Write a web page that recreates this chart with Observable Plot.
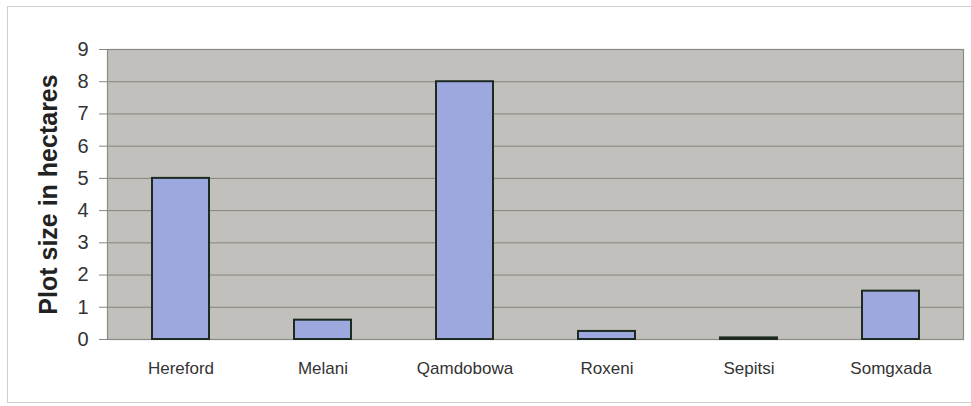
<!DOCTYPE html>
<html>
<head>
<meta charset="utf-8">
<script src="https://cdn.jsdelivr.net/npm/d3@7"></script>
<script src="https://cdn.jsdelivr.net/npm/@observablehq/plot@0.6"></script>
<style>
  html, body { margin: 0; padding: 0; background: #fff; }
  #wrap { position: relative; width: 971px; height: 406px; overflow: hidden; }
  #border { position: absolute; left: 7px; top: 6px; width: 980px; height: 397px;
            border: 1px solid #cfcfcb; box-sizing: border-box; pointer-events: none; }
  svg { display: block; }
</style>
</head>
<body>
<div id="wrap"><div id="border"></div></div>
<script>
// Plot size per village, in hectares
const villages = ["Hereford", "Melani", "Qamdobowa", "Roxeni", "Sepitsi", "Somgxada"];
const hectares = [5, 0.6, 8, 0.25, 0.05, 1.5];
const yTicks = [0, 1, 2, 3, 4, 5, 6, 7, 8, 9];

const data = villages.map((v, i) => ({village: v, size: hectares[i]}));

// short ticks on the category boundaries, below the x axis
function boundaryTicks(index, scales, values, dims) {
  const g = d3.create("svg:g");
  const [r0, r1] = scales.x.range();
  const n = villages.length;
  const yb = dims.height - dims.marginBottom;
  for (let i = 0; i <= n; i++) {
    const x = r0 + i * (r1 - r0) / n;
    g.append("line")
      .attr("x1", x).attr("x2", x)
      .attr("y1", yb).attr("y2", yb + 6)
      .attr("stroke", "#9a9a96");
  }
  return g.node();
}

const chart = Plot.plot({
  width: 971,
  height: 406,
  marginLeft: 107,
  marginRight: 8,
  marginTop: 49,
  marginBottom: 67,
  style: {fontFamily: "Liberation Sans, Arial, sans-serif", color: "#333", background: "transparent"},
  x: {domain: villages, paddingInner: 0.6, paddingOuter: 0.3, label: null},
  y: {domain: [0, 9], ticks: yTicks, label: null},
  marks: [
    Plot.frame({fill: "#c1c0bc", stroke: "none"}),
    Plot.gridY(yTicks, {stroke: "#858580", strokeOpacity: 1, strokeWidth: 1}),
    Plot.frame({stroke: "#8a8a86", strokeWidth: 1.2}),
    Plot.barY(data, {x: "village", y: "size", fill: "#9da8de", stroke: "#1c2a1f", strokeWidth: 2}),
    Plot.axisY(yTicks, {tickSize: 8, tickPadding: 11, fontSize: 20, stroke: "#858580", fill: "#333"}),
    Plot.axisX({tickSize: 0, tickPadding: 22, fontSize: 17, fill: "#333"}),
    Plot.tickX([0], {render: boundaryTicks}),
    Plot.text(["Plot size in hectares"], {
      frameAnchor: "left", dx: -59, rotate: -90, textAnchor: "middle",
      fontSize: 25, fontWeight: "bold", fill: "#222"
    })
  ]
});
document.getElementById("wrap").prepend(chart);
</script>
</body>
</html>
